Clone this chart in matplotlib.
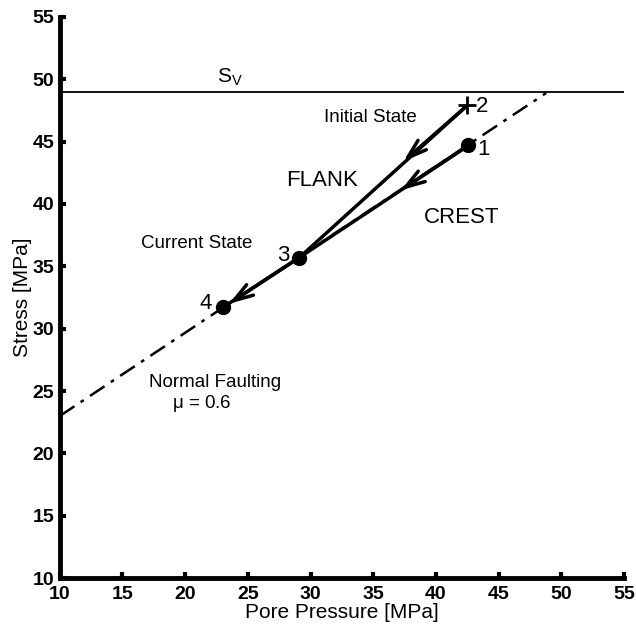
from matplotlib import pyplot as plt
import numpy as np

plt.rcParams['font.family'] = ['Liberation Sans', 'DejaVu Sans']

# stress path points [MPa]
pp = np.array([42.6, 42.5, 29.1, 23.0])   # points 1, 2, 3, 4
sv_pts = np.array([44.7, 47.9, 35.7, 31.7])
point_labels = ['1', '2', '3', '4']

# overburden and failure line
Sv = 49.0
fault_pp = [10.0, 48.8]
fault_s = [23.0, 48.9]

# arrow heads along the paths
arrow_from = [(42.5, 47.9), (42.6, 44.7), (29.1, 35.7)]
arrow_to = [(37.4, 43.4), (37.2, 41.1), (23.5, 32.0)]

fig = plt.figure(figsize=(6.36, 6.27), dpi=100)
ax = fig.add_axes([0.094, 0.078, 0.887, 0.895])

ax.axhline(Sv, color='k', lw=1.3, xmin=0, xmax=1)
ax.plot(fault_pp, fault_s, color='k', lw=1.8, ls=(0, (7, 3, 1.5, 3)), zorder=1)

# paths: 2 -> 3, 1 -> 3, 3 -> 4
ax.plot([pp[1], pp[2]], [sv_pts[1], sv_pts[2]], color='k', lw=2.5)
ax.plot([pp[0], pp[2]], [sv_pts[0], sv_pts[2]], color='k', lw=2.5)
ax.plot([pp[2], pp[3]], [sv_pts[2], sv_pts[3]], color='k', lw=2.5)
for a, b in zip(arrow_from, arrow_to):
    ax.annotate('', xy=b, xytext=a,
                arrowprops=dict(arrowstyle='->,head_length=1.4,head_width=0.45',
                                color='k', lw=2.5, shrinkA=0, shrinkB=0))

ax.plot(pp[[0, 2, 3]], sv_pts[[0, 2, 3]], 'o', color='k', ms=10)
ax.plot(pp[1], sv_pts[1], '+', color='k', ms=13, mew=2)

ax.text(pp[0] + 0.7, sv_pts[0] - 0.3, point_labels[0], fontsize=16, va='center', ha='left')
ax.text(pp[1] + 0.7, sv_pts[1] - 0.1, point_labels[1], fontsize=16, va='center', ha='left')
ax.text(pp[2] - 0.8, sv_pts[2] + 0.2, point_labels[2], fontsize=16, va='center', ha='right')
ax.text(pp[3] - 0.9, sv_pts[3] + 0.3, point_labels[3], fontsize=16, va='center', ha='right')

ax.text(23.6, 50.2, r'S$_\mathregular{V}$', fontsize=15, ha='center', va='center')
ax.text(34.8, 46.9, 'Initial State', fontsize=13.5, ha='center', va='center')
ax.text(30.9, 41.9, 'FLANK', fontsize=16, ha='center', va='center')
ax.text(42.05, 38.9, 'CREST', fontsize=16, ha='center', va='center')
ax.text(20.95, 36.8, 'Current State', fontsize=13.5, ha='center', va='center')
ax.text(22.4, 25.7, 'Normal Faulting', fontsize=13.5, ha='center', va='center')
ax.text(21.3, 24.0, r'$\mathregular{\mu}$ = 0.6', fontsize=13.5, ha='center', va='center')

ax.set_xlim(10, 55)
ax.set_ylim(10, 55)
ax.set_xticks(np.arange(10, 56, 5))
ax.set_yticks(np.arange(10, 56, 5))
for s in ['top', 'right']:
    ax.spines[s].set_visible(False)
for s in ['left', 'bottom']:
    ax.spines[s].set_linewidth(3.5)
ax.tick_params(direction='in', length=4, width=3, labelsize=14)
ax.tick_params(axis='x', pad=6)
ax.tick_params(axis='y', pad=4)
for lab in ax.get_xticklabels() + ax.get_yticklabels():
    lab.set_fontweight('bold')
ax.set_xlabel('Pore Pressure [MPa]', fontsize=15, labelpad=0)
ax.set_ylabel('Stress [MPa]', fontsize=15, labelpad=0)

fig.savefig('out.png', dpi=100)
